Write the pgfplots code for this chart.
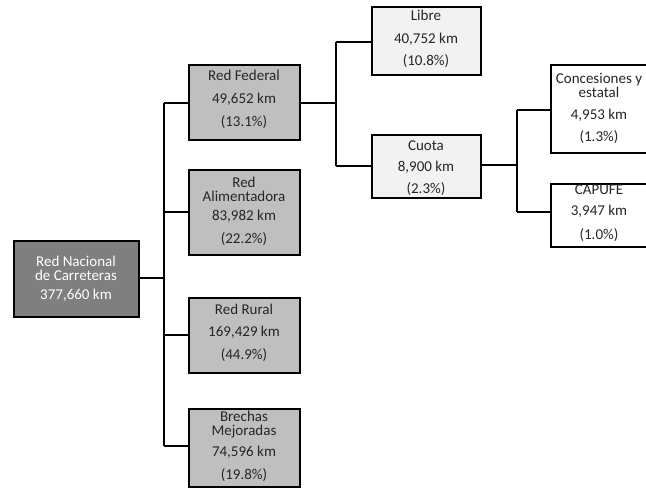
\documentclass[border=0pt]{standalone}
\usepackage{fontspec}
\setmainfont{Carlito}
\usepackage{pgfplots}
\pgfplotsset{compat=1.18}
\definecolor{rootfill}{HTML}{7F7F7F}
\definecolor{lvlone}{HTML}{BFBFBF}
\definecolor{lvltwo}{HTML}{F2F2F2}
\definecolor{txt}{HTML}{262626}
\tikzset{
  box/.style={draw=black,line width=1.6pt},
  conn/.style={black,line width=1.4pt},
  lbl/.style={font=\fontsize{15}{16}\selectfont,text=txt,inner sep=0pt,
    text height=10pt,text depth=3pt},
  % two-line titles set as one node
  ttl/.style={font=\fontsize{15}{14}\selectfont,text=txt,inner sep=0pt,align=center},
}
\begin{document}
\begin{tikzpicture}
\begin{axis}[
  x=1pt,y=1pt,y dir=reverse,
  xmin=0,xmax=646,ymin=0,ymax=489,
  hide axis,clip=true,
]
  % connectors
  \addplot[conn] coordinates {(139,278)(164,278)};
  \addplot[conn] coordinates {(164,103)(164,446)};
  \addplot[conn] coordinates {(164,103)(189,103)};
  \addplot[conn] coordinates {(164,212)(189,212)};
  \addplot[conn] coordinates {(164,335)(189,335)};
  \addplot[conn] coordinates {(164,446)(189,446)};
  \addplot[conn] coordinates {(300,103)(336,103)};
  \addplot[conn] coordinates {(336,42)(336,166)};
  \addplot[conn] coordinates {(336,42)(372,42)};
  \addplot[conn] coordinates {(336,166)(372,166)};
  \addplot[conn] coordinates {(481,165)(517,165)};
  \addplot[conn] coordinates {(517,110)(517,212)};
  \addplot[conn] coordinates {(517,110)(551,110)};
  \addplot[conn] coordinates {(517,212)(551,212)};
  % boxes
  \addplot[box,fill=rootfill] coordinates {(14,241)(139,241)(139,317)(14,317)} -- cycle;
  \addplot[box,fill=lvlone] coordinates {(189,65)(300,65)(300,140)(189,140)} -- cycle;
  \addplot[box,fill=lvlone] coordinates {(189,170)(300,170)(300,255)(189,255)} -- cycle;
  \addplot[box,fill=lvlone] coordinates {(189,298)(300,298)(300,373)(189,373)} -- cycle;
  \addplot[box,fill=lvlone] coordinates {(189,409)(300,409)(300,487)(189,487)} -- cycle;
  \addplot[box,fill=lvltwo] coordinates {(372,7)(481,7)(481,75)(372,75)} -- cycle;
  \addplot[box,fill=lvltwo] coordinates {(372,135)(481,135)(481,198)(372,198)} -- cycle;
  \addplot[box,fill=white] coordinates {(551,65)(665,65)(665,153)(551,153)} -- cycle;
  \addplot[box,fill=white] coordinates {(551,184)(665,184)(665,247)(551,247)} -- cycle;
  % labels
  \node[ttl,text=white] at (axis cs:76,268) {Red Nacional\\de Carreteras};
  \node[lbl,text=white] at (axis cs:76,296) {377,660 km};

  \node[lbl] at (axis cs:244,77) {Red Federal};
  \node[lbl] at (axis cs:244,100) {49,652 km};
  \node[lbl] at (axis cs:244,123) {(13.1\%)};

  \node[ttl] at (axis cs:244,189) {Red\\Alimentadora};
  \node[lbl] at (axis cs:244,217) {83,982 km};
  \node[lbl] at (axis cs:244,240) {(22.2\%)};

  \node[lbl] at (axis cs:244,311) {Red Rural};
  \node[lbl] at (axis cs:244,333) {169,429 km};
  \node[lbl] at (axis cs:244,356) {(44.9\%)};

  \node[ttl] at (axis cs:244,425) {Brechas\\Mejoradas};
  \node[lbl] at (axis cs:244,453) {74,596 km};
  \node[lbl] at (axis cs:244,476) {(19.8\%)};

  \node[lbl] at (axis cs:426,17) {Libre};
  \node[lbl] at (axis cs:426,40) {40,752 km};
  \node[lbl] at (axis cs:426,62) {(10.8\%)};

  \node[lbl] at (axis cs:426,147) {Cuota};
  \node[lbl] at (axis cs:426,168) {8,900 km};
  \node[lbl] at (axis cs:426,190) {(2.3\%)};

  \node[ttl] at (axis cs:599,85) {Concesiones y\\estatal};
  \node[lbl] at (axis cs:599,116) {4,953 km};
  \node[lbl] at (axis cs:599,138) {(1.3\%)};

  \node[lbl] at (axis cs:599,191) {CAPUFE};
  \node[lbl] at (axis cs:599,212) {3,947 km};
  \node[lbl] at (axis cs:599,236) {(1.0\%)};
\end{axis}
\pgfresetboundingbox
\path (current axis.south west) rectangle (current axis.north east);
\end{tikzpicture}
\end{document}
